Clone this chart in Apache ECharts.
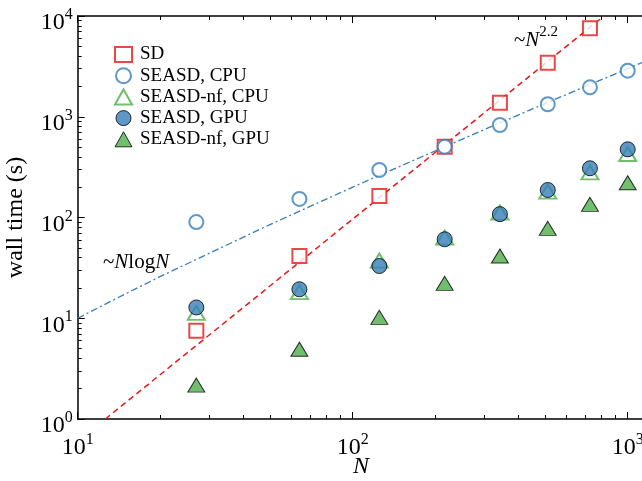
<!DOCTYPE html>
<html>
<head>
<meta charset="utf-8">
<script src="https://cdn.jsdelivr.net/npm/echarts@6/dist/echarts.min.js"></script>
<style>
html,body{margin:0;padding:0;background:#fff;}
#chart{width:642px;height:481px;}
</style>
</head>
<body>
<div id="chart"></div>
<script>
// ---- data ----
var N = [27, 64, 125, 216, 343, 512, 729, 1000];
var sd = [7.5, 41.5, 163, 505, 1378, 3443, 7550];           // SD (no point at 1000)
var seasdCPU = [90, 153, 296, 505, 828, 1330, 1960, 2866];
var seasdNfCPU = [11.3, 18.2, 37.4, 63, 112, 181, 280, 427];
var seasdGPU = [12.8, 19.4, 33, 60.8, 108, 187.6, 308, 475];
var seasdNfGPU = [2.17, 4.92, 10.2, 22.2, 41.5, 78, 135, 221];
// guide lines
var powerLineN = [12.6, 820];
var powerLineT = [1, 10000];
var nlognN = [10, 15, 20, 30, 50, 70, 100, 150, 200, 300, 500, 700, 1000, 1200];
var nlognT = [10, 17.6, 26, 44, 85, 129, 200, 326, 460, 743, 1350, 1990, 3000, 3700];
// ticks
var xMajor = [10, 100, 1000, 10000];
var yMajor = [1, 10, 100, 1000, 10000];
var xMinor = [20,30,40,50,60,70,80,90,200,300,400,500,600,700,800,900,2000,3000,4000,5000,6000,7000,8000,9000];
var yMinor = [2,3,4,5,6,7,8,9,20,30,40,50,60,70,80,90,200,300,400,500,600,700,800,900,2000,3000,4000,5000,6000,7000,8000,9000];
var legendNames = ['SD', 'SEASD, CPU', 'SEASD-nf, CPU', 'SEASD, GPU', 'SEASD-nf, GPU'];

var RED = '#e41a1c', BLUE = '#377eb8', GREEN = '#4daf4a';
var FONT = '"Liberation Serif", "DejaVu Serif", serif';

function pairs(xs, ys) { var out = []; for (var i = 0; i < ys.length; i++) out.push([xs[i], ys[i]]); return out; }
function expLabel(v) { var e = Math.round(Math.log10(v)); return '{b|10}{s|' + e + '}'; }
var richLab = {
  b: { fontFamily: FONT, fontSize: 24, color: '#000', verticalAlign: 'bottom', lineHeight: 28 },
  s: { fontFamily: FONT, fontSize: 16, color: '#000', verticalAlign: 'top', lineHeight: 28 }
};

var chart = echarts.init(document.getElementById('chart'), null, { renderer: 'canvas' });

function xAx(pos, minor, labels) {
  return {
    type: 'log', logBase: 10, min: 10, max: 10000, position: pos, gridIndex: 0,
    axisLine: { show: !minor, onZero: false, lineStyle: { color: '#000', width: 1.5 } },
    axisTick: { show: true, inside: true, length: minor ? 4 : 7, lineStyle: { color: '#000', width: 1 },
      customValues: minor ? xMinor : xMajor },
    axisLabel: labels ? { show: true, margin: 13, formatter: expLabel, rich: richLab, customValues: [10, 100, 1000] } : { show: false },
    splitLine: { show: false }, minorTick: { show: false }
  };
}
function yAx(minor, labels) {
  return {
    type: 'log', logBase: 10, min: 1, max: 10000, position: 'left', gridIndex: 0,
    axisLine: { show: !minor, onZero: false, lineStyle: { color: '#000', width: 1.5 } },
    axisTick: { show: true, inside: true, length: minor ? 4 : 7, lineStyle: { color: '#000', width: 1 },
      customValues: minor ? yMinor : yMajor },
    axisLabel: labels ? { show: true, margin: 5, formatter: expLabel, rich: richLab, customValues: yMajor, padding: [10, 0, 0, 0] } : { show: false },
    splitLine: { show: false }, minorTick: { show: false },
    name: labels ? 'wall time (s)' : '', nameLocation: 'middle', nameGap: 50, nameRotate: 90,
    nameTextStyle: { fontFamily: FONT, fontSize: 24, color: '#000' }
  };
}

var hollow = function (c) { return { color: '#fff', borderColor: c, borderWidth: 2 }; };
var filled = function (c) { return { color: c, borderColor: '#000', borderWidth: 1 }; };

var option = {
  animation: false,
  backgroundColor: '#fff',
  grid: { left: 77.7, top: 16, width: 825, height: 403, containLabel: false, outerBoundsMode: 'none' },
  xAxis: [xAx('bottom', false, true), xAx('bottom', true, false), xAx('top', false, false), xAx('top', true, false)],
  yAxis: [yAx(false, true), yAx(true, false)],
  legend: {
    orient: 'vertical', left: 109, top: 40, itemWidth: 17, itemHeight: 15, itemGap: 2.2,
    symbolKeepAspect: true,
    textStyle: { fontFamily: FONT, fontSize: 19, lineHeight: 19, color: '#000', padding: [0, 0, 0, 3] },
    data: [
      { name: legendNames[0], icon: 'rect', itemStyle: hollow(RED) },
      { name: legendNames[1], icon: 'circle', itemStyle: hollow(BLUE) },
      { name: legendNames[2], icon: 'triangle', itemStyle: hollow(GREEN) },
      { name: legendNames[3], icon: 'circle', itemStyle: filled(BLUE) },
      { name: legendNames[4], icon: 'triangle', itemStyle: filled(GREEN) }
    ]
  },
  graphic: [
    { type: 'text', left: 514, top: 25, z: 100,
      style: { text: '{t|~}{n|N}{s|2.2}', rich: {
        t: { fontFamily: FONT, fontSize: 21, fill: '#000', verticalAlign: 'bottom', lineHeight: 26 },
        n: { fontFamily: FONT, fontSize: 21, fontStyle: 'italic', fill: '#000', verticalAlign: 'bottom', lineHeight: 26 },
        s: { fontFamily: FONT, fontSize: 15, fill: '#000', verticalAlign: 'top', lineHeight: 26 } } } },
    { type: 'text', left: 103, top: 252, z: 100,
      style: { text: '{t|~}{n|N}{t|log}{n|N}', rich: {
        t: { fontFamily: FONT, fontSize: 21, fill: '#000' },
        n: { fontFamily: FONT, fontSize: 21, fontStyle: 'italic', fill: '#000' } } } },
    { type: 'text', left: 353, top: 455, z: 100,
      style: { text: 'N', fontFamily: FONT, fontSize: 24, fontStyle: 'italic', fill: '#000' } }
  ],
  series: [
    { type: 'line', name: 'fit2.2', data: pairs(powerLineN, powerLineT), symbol: 'none', z: 1, silent: true,
      lineStyle: { color: RED, width: 1.5, type: [6, 4] }, clip: true },
    { type: 'line', name: 'nlogn', data: pairs(nlognN, nlognT), symbol: 'none', z: 1, silent: true,
      lineStyle: { color: BLUE, width: 1.3, type: [7, 3, 2, 3] }, clip: true },
    { type: 'scatter', name: legendNames[0], data: pairs(N, sd), symbol: 'rect', symbolSize: 14, z: 2, itemStyle: hollow(RED) },
    { type: 'scatter', name: legendNames[1], data: pairs(N, seasdCPU), symbol: 'circle', symbolSize: 14, z: 3, itemStyle: hollow(BLUE) },
    { type: 'scatter', name: legendNames[2], data: pairs(N, seasdNfCPU), symbol: 'triangle', symbolSize: [17, 14], z: 4, itemStyle: hollow(GREEN) },
    { type: 'scatter', name: legendNames[3], data: pairs(N, seasdGPU), symbol: 'circle', symbolSize: 15, z: 5, itemStyle: filled(BLUE) },
    { type: 'scatter', name: legendNames[4], data: pairs(N, seasdNfGPU), symbol: 'triangle', symbolSize: [17, 14], z: 6, itemStyle: filled(GREEN) }
  ]
};
chart.setOption(option);
</script>
</body>
</html>
